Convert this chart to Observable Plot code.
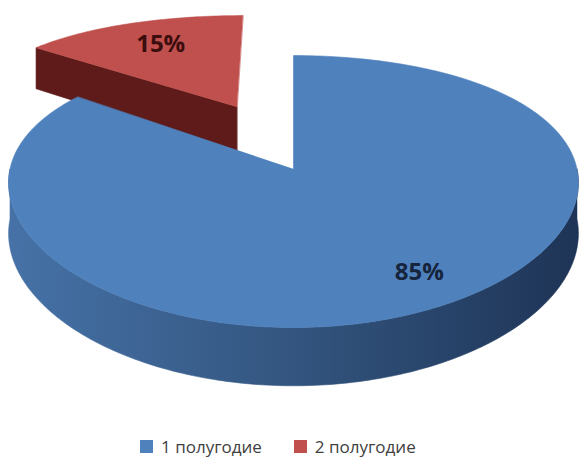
<!DOCTYPE html>
<html><head><meta charset="utf-8">
<script src="https://cdn.jsdelivr.net/npm/d3@7"></script>
<script src="https://cdn.jsdelivr.net/npm/@observablehq/plot@0.6"></script>
<style>
body{margin:0;background:#fff;}
#legend{display:flex;justify-content:flex-start;padding-left:140px;}
#legend .lg-swatch{margin-right:32px;}
#legend .lg-swatch svg{margin-right:8px;}
</style></head>
<body><div id="chart"></div><div id="legend"></div>
<script>
// ---- data ----
const categories = ["1 полугодие", "2 полугодие"];
const values = [85, 15];
const topColors = ["#4F81BD", "#C0504D"];
const sideLight = ["#4672A7", "#6A2220"];
const sideMid = ["#33557F", "#5E1B19"];
const sideDark = ["#1E3456", "#551715"];
const labelColors = ["#16243c", "#3b0e0d"];
const exploded = [false, true];

// ---- layout (geometry of the 3D pie) ----
const W = 585, H = 430;
const G = {cx: 293, cy: 168.6, rx: 283.5, ry: 136, px: 0.1, py: 0.165, depth: 50,
           exDu: -0.21, exDv: -0.5};
const labelPlace = [{r: 0.8, shift: -4.3}, {r: 0.7, shift: 0}];
const rad = Math.PI / 180;

function proj(u, v, h) {
  const fx = 1 + G.px * v, fy = 1 + G.py * v;
  return [G.cx + G.rx * u * fx, G.cy + G.ry * v * fy + G.depth * h * fy];
}

const total = d3.sum(values);
let acc = 0;
const slices = values.map((val, i) => {
  const a0 = acc / total * 2 * Math.PI; acc += val;
  const a1 = acc / total * 2 * Math.PI;
  const off = exploded[i] ? [G.exDu, G.exDv] : [0, 0];
  const pt = (t, r, h) => proj(off[0] + r * Math.sin(t), off[1] - r * Math.cos(t), h);
  const mid = (a0 + a1) / 2;
  return {i, a0, a1, off, pt, mid, depthKey: off[1] - 0.5 * Math.cos(mid)};
});

const rows = [];
let pid = 0;
function addPoly(pts, fill) {
  const id = pid++;
  for (const [x, y] of pts) rows.push({id, x, y, fill});
}

// draw far slices first
const order = slices.slice().sort((a, b) => a.depthKey - b.depthKey);
for (const s of order) {
  const {i, a0, a1, pt} = s;
  // radial faces
  if (Math.sin(a0) < -1e-6)
    addPoly([pt(0, 0, 0), pt(a0, 1, 0), pt(a0, 1, 1), pt(0, 0, 1)], sideMid[i]);
  if (Math.sin(a1) > 1e-6)
    addPoly([pt(0, 0, 0), pt(a1, 1, 0), pt(a1, 1, 1), pt(0, 0, 1)], sideMid[i]);
  // outer side (visible part: front half), one polygon with a horizontal gradient
  const lo = Math.max(a0, Math.PI / 2), hi = Math.min(a1, 3 * Math.PI / 2);
  if (hi > lo) {
    const n = Math.max(2, Math.ceil((hi - lo) / rad));
    const side = [];
    for (let k = 0; k <= n; k++) side.push(pt(lo + (hi - lo) * k / n, 1, 0));
    for (let k = n; k >= 0; k--) side.push(pt(lo + (hi - lo) * k / n, 1, 1));
    addPoly(side, `url(#side${i})`);
  }
  // top face
  const n = Math.max(4, Math.ceil((a1 - a0) / rad));
  const top = [pt(0, 0, 0)];
  for (let k = 0; k <= n; k++) top.push(pt(a0 + (a1 - a0) * k / n, 1, 0));
  addPoly(top, topColors[i]);
}

const labels = slices.map(s => {
  const p = labelPlace[s.i];
  const [x, y] = s.pt(s.mid + p.shift * rad, p.r, 0);
  return {x, y, text: Math.round(values[s.i] / total * 100) + "%", fill: labelColors[s.i]};
});

// gradient definitions for the pie sides
const defs = () => {
  const d = d3.create("svg:defs");
  categories.forEach((c, i) => {
    const g = d.append("linearGradient").attr("id", `side${i}`)
      .attr("x1", 0).attr("x2", 1).attr("y1", 0).attr("y2", 0);
    g.append("stop").attr("offset", "0%").attr("stop-color", sideLight[i]);
    g.append("stop").attr("offset", "50%").attr("stop-color", sideMid[i]);
    g.append("stop").attr("offset", "100%").attr("stop-color", sideDark[i]);
  });
  return d.node();
};

const chart = Plot.plot({
  width: W, height: H,
  margin: 0,
  x: {domain: [0, W], range: [0, W], axis: null},
  y: {domain: [0, H], range: [0, H], axis: null},
  color: {type: "identity"},
  marks: [
    defs,
    Plot.line(rows, {x: "x", y: "y", z: "id", fill: "fill", stroke: "fill", strokeWidth: 0.6, curve: "linear-closed"}),
    Plot.text(labels, {x: "x", y: "y", text: "text", fill: "fill", fontSize: 24, fontWeight: "bold", fontFamily: "Open Sans"})
  ]
});
document.getElementById("chart").appendChild(chart);

const legend = Plot.legend({
  color: {domain: categories, range: topColors},
  swatchSize: 13,
  className: "lg",
  style: {fontSize: "17px", fontFamily: "Open Sans", color: "#404040"}
});
document.getElementById("legend").appendChild(legend);
</script>
</body></html>
